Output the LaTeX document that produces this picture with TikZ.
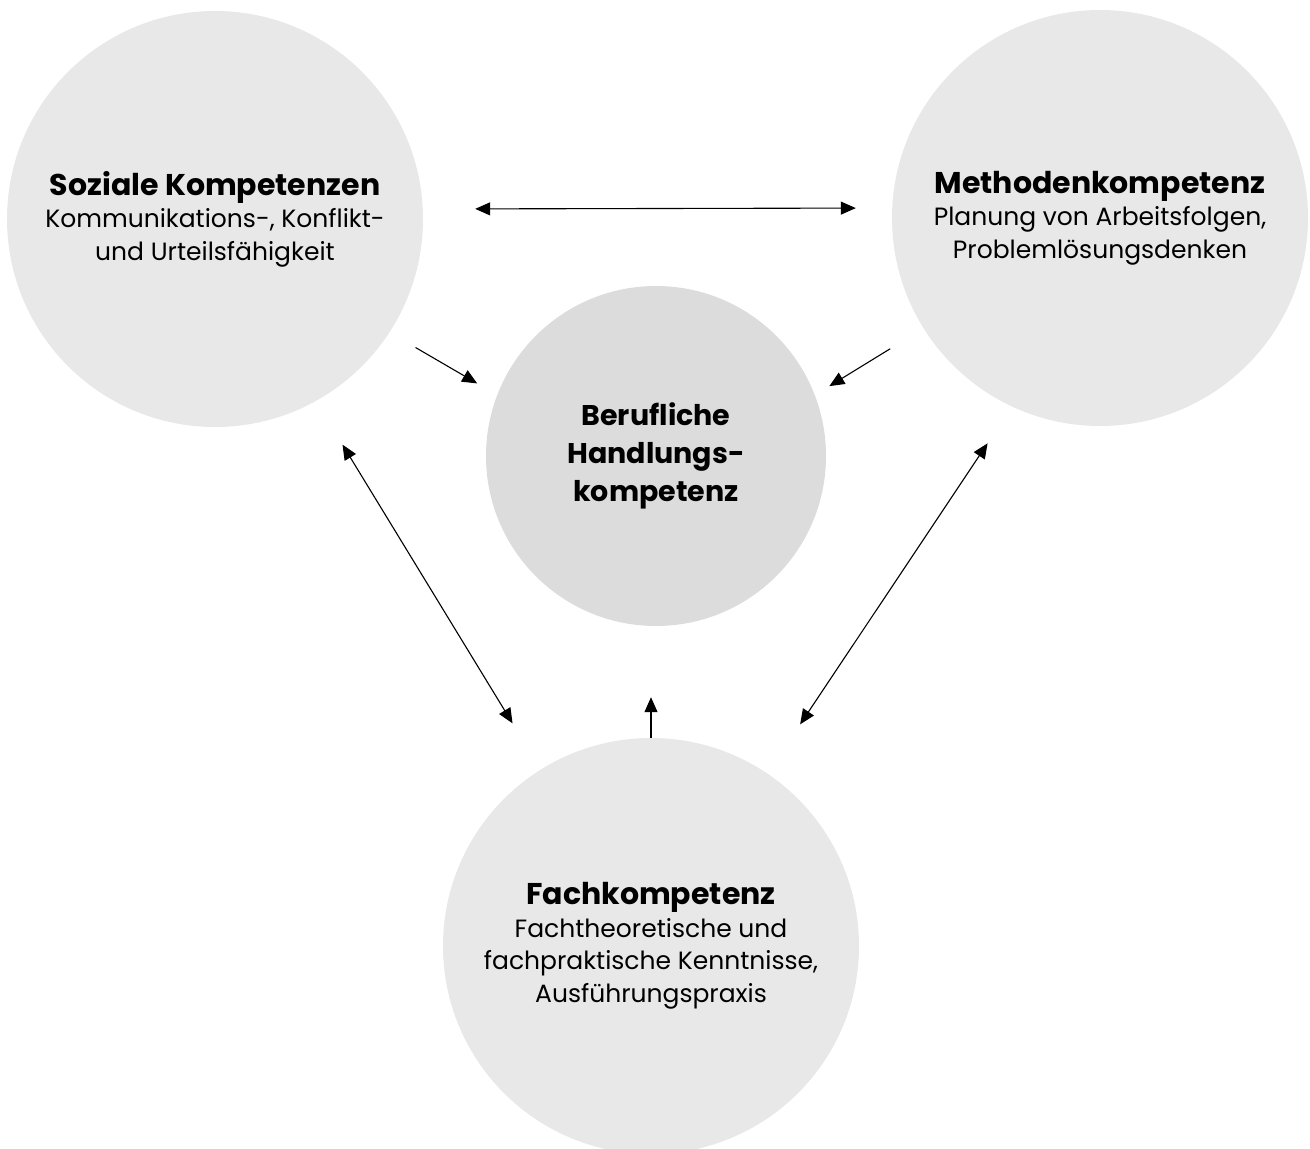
\documentclass[tikz,border=0pt]{standalone}
\usepackage{fontspec}
\setmainfont{Poppins}
\usepackage{tikz}
\usetikzlibrary{arrows.meta}
\usetikzlibrary{positioning}

\definecolor{outerfill}{HTML}{E8E8E8}
\definecolor{innerfill}{HTML}{DCDCDC}

\newcommand{\circtitle}[1]{{\fontsize{30}{33}\selectfont\bfseries #1}}

\begin{document}
\begin{tikzpicture}
  [
    x = 1pt, y = -1pt,
    circ/.style = {circle, inner sep = 0pt, align = center, text = black},
    outer/.style = {circ, fill = outerfill, minimum size = 416pt,
                   font = \fontsize{25}{32.5}\selectfont},
    inner/.style = {circ, fill = innerfill, minimum size = 340pt,
                   font = \fontsize{28.5}{38}\selectfont\bfseries},
    arrow/.style = {-{Triangle[length = 15pt, width = 13pt]}, line width = 1.1pt},
    both/.style = {{Triangle[length = 15pt, width = 13pt]}-{Triangle[length = 15pt, width = 13pt]}, line width = 1.1pt},
  ]
  \useasboundingbox (0,0) rectangle (1310,1149);

  \node[inner] (hk) at (656,456) {Berufliche\\Handlungs-\\kompetenz};

  \node[outer] (soz) at (215,219)
    {\circtitle{Soziale Kompetenzen}\\Kommunikations-, Konflikt-\\und Urteilsfähigkeit};
  \node[outer] (meth) at (1100,218)
    {\circtitle{Methodenkompetenz}\\Planung von Arbeitsfolgen,\\Problemlösungsdenken};
  \node[outer] (fach) at (651,946)
    {\circtitle{Fachkompetenz}\\Fachtheoretische und\\fachpraktische Kenntnisse,\\Ausführungspraxis};

  \draw[both, shorten <= 52pt, shorten >= 36pt] ([yshift = 10pt]soz.east) -- ([yshift = 10pt]meth.west);

  \draw[arrow, shorten <= 30pt, shorten >= 23pt] (soz.-33.5) -- (hk.159.7);
  \draw[arrow, shorten <= 39pt, shorten >= 17pt] (meth.212.6) -- (hk.21);
  \draw[arrow, shorten >= 71pt] (fach.north) -- (fach.north |- hk.south);

  \draw[both, shorten <= 51pt, shorten >= 54pt] (soz.-61.2) -- (fach.122.2);
  \draw[both, shorten <= 44pt, shorten >= 59pt] (meth.-115.35) -- (fach.56.3);

\end{tikzpicture}
\end{document}
